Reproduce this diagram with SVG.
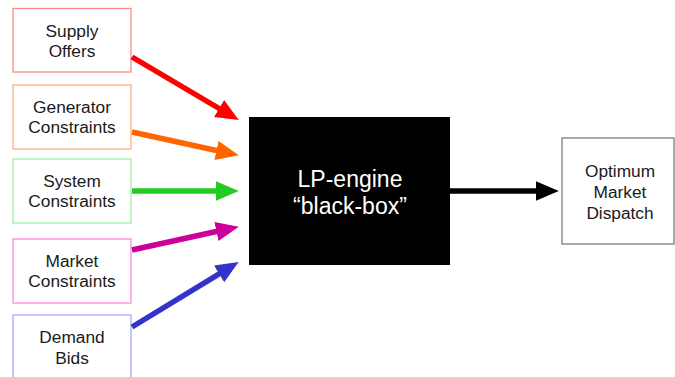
<svg xmlns="http://www.w3.org/2000/svg" width="675" height="377" viewBox="0 0 675 377">
<style>
  .box { fill: #ffffff; stroke-width: 1.3; }
  .lbl { font-family: "Liberation Sans", Arial, sans-serif; font-size: 17.3px; fill: #1a1a1a; text-anchor: middle; }
  .big { font-family: "Liberation Sans", Arial, sans-serif; font-size: 23px; fill: #ffffff; text-anchor: middle; }
  .arr { stroke-width: 5.5; fill: none; }
</style>
<defs>
  <marker id="mRed" markerUnits="userSpaceOnUse" markerWidth="24" markerHeight="24" viewBox="0 -10 22 20" refX="1" refY="0" orient="auto"><path d="M0,-9 L21,0 L0,9 z" fill="#ff0000"/></marker>
  <marker id="mOrange" markerUnits="userSpaceOnUse" markerWidth="24" markerHeight="24" viewBox="0 -10 22 20" refX="1" refY="0" orient="auto"><path d="M0,-9 L21,0 L0,9 z" fill="#ff6600"/></marker>
  <marker id="mGreen" markerUnits="userSpaceOnUse" markerWidth="24" markerHeight="24" viewBox="0 -10 22 20" refX="1" refY="0" orient="auto"><path d="M0,-9 L21,0 L0,9 z" fill="#22cc22"/></marker>
  <marker id="mMagenta" markerUnits="userSpaceOnUse" markerWidth="24" markerHeight="24" viewBox="0 -10 22 20" refX="1" refY="0" orient="auto"><path d="M0,-9 L21,0 L0,9 z" fill="#cc0099"/></marker>
  <marker id="mBlue" markerUnits="userSpaceOnUse" markerWidth="24" markerHeight="24" viewBox="0 -10 22 20" refX="1" refY="0" orient="auto"><path d="M0,-9 L21,0 L0,9 z" fill="#3333cc"/></marker>
  <marker id="mBlack" markerUnits="userSpaceOnUse" markerWidth="24" markerHeight="24" viewBox="0 -10 22 20" refX="1" refY="0" orient="auto"><path d="M0,-9 L21,0 L0,9 z" fill="#000000"/></marker>
</defs>

<g id="supply-offers">
  <rect class="box" x="13" y="8.5" width="118" height="63.5" stroke="#ff8a8a"/>
  <text class="lbl" x="72" y="37">Supply</text>
  <text class="lbl" x="72" y="57">Offers</text>
</g>
<g id="generator-constraints">
  <rect class="box" x="13" y="85" width="118" height="64" stroke="#ffb27f"/>
  <text class="lbl" x="72" y="113">Generator</text>
  <text class="lbl" x="72" y="133">Constraints</text>
</g>
<g id="system-constraints">
  <rect class="box" x="13" y="159" width="118" height="64" stroke="#9ff09f"/>
  <text class="lbl" x="72" y="187">System</text>
  <text class="lbl" x="72" y="207">Constraints</text>
</g>
<g id="market-constraints">
  <rect class="box" x="13" y="239" width="118" height="64" stroke="#ff88d8"/>
  <text class="lbl" x="72" y="267">Market</text>
  <text class="lbl" x="72" y="287">Constraints</text>
</g>
<g id="demand-bids">
  <rect class="box" x="13" y="315" width="118" height="64" stroke="#a8a8ff"/>
  <text class="lbl" x="72" y="343">Demand</text>
  <text class="lbl" x="72" y="364">Bids</text>
</g>
<g id="lp-engine">
  <rect x="249" y="117" width="201" height="148" fill="#000000"/>
  <text class="big" x="350" y="187">LP-engine</text>
  <text class="big" x="350" y="214">“black-box”</text>
</g>
<g id="optimum-dispatch">
  <rect class="box" x="562" y="138" width="112" height="106" stroke="#7f7f7f"/>
  <text class="lbl" x="620" y="177">Optimum</text>
  <text class="lbl" x="620" y="198">Market</text>
  <text class="lbl" x="620" y="219">Dispatch</text>
</g>

<g id="connectors">
  <line class="arr" x1="132" y1="57" x2="220" y2="109" stroke="#ff0000" marker-end="url(#mRed)"/>
  <line class="arr" x1="132" y1="132" x2="217.5" y2="150.7" stroke="#ff6600" marker-end="url(#mOrange)"/>
  <line class="arr" x1="132" y1="191" x2="217" y2="191" stroke="#22cc22" marker-end="url(#mGreen)"/>
  <line class="arr" x1="132" y1="250" x2="217.5" y2="231.3" stroke="#cc0099" marker-end="url(#mMagenta)"/>
  <line class="arr" x1="132" y1="327" x2="220" y2="273.4" stroke="#3333cc" marker-end="url(#mBlue)"/>
  <line class="arr" x1="450" y1="191" x2="537" y2="191" stroke="#000000" marker-end="url(#mBlack)"/>
</g>
</svg>
